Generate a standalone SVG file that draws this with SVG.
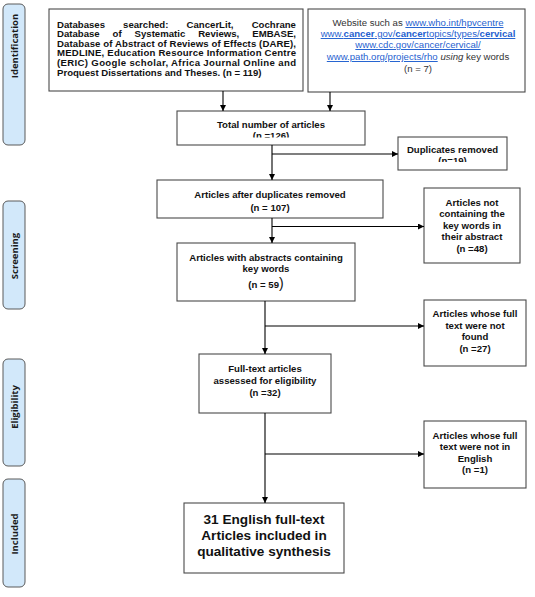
<svg xmlns="http://www.w3.org/2000/svg" width="535" height="597" viewBox="0 0 535 597">
<defs>
<style>
.box{fill:#fff;stroke:#4a4a4a;stroke-width:1.1}
.side{fill:#d2e8fa;stroke:#5a5a5a;stroke-width:1}
.st{font-family:"Open Sans","Noto Sans",sans-serif;font-weight:700;font-size:9.5px;fill:#1a1a1a;text-anchor:middle}
.t{font-family:"Liberation Sans",Arial,sans-serif;font-weight:700;font-size:9.6px;fill:#111;text-anchor:middle}
.tl{font-family:"Liberation Sans",Arial,sans-serif;font-weight:700;font-size:9.6px;fill:#111}
.w{font-family:"Liberation Sans",Arial,sans-serif;font-size:9.6px;fill:#333;text-anchor:middle}
.lk{fill:#1f5fd0;text-decoration:underline}
.big{font-family:"Liberation Sans",Arial,sans-serif;font-weight:700;font-size:13.6px;fill:#111;text-anchor:middle}
.c{fill:none;stroke:#000;stroke-width:1.1}
</style>
<marker id="ah" viewBox="0 0 10 10" refX="10" refY="5" markerWidth="6" markerHeight="6" markerUnits="userSpaceOnUse" orient="auto">
<path d="M0,0 L10,5 L0,10 z" fill="#000"/>
</marker>
<clipPath id="clipTotal"><rect x="177" y="111" width="188" height="26.5"/></clipPath>
<clipPath id="clipDup"><rect x="398" y="137" width="109" height="25"/></clipPath>
</defs>

<g id="stage-identification">
<rect class="side" x="3" y="4" width="22" height="141" rx="5"/>
<text class="st" transform="translate(17.5,46) rotate(-90)">Identification</text>
</g>
<g id="stage-screening">
<rect class="side" x="3" y="201" width="22" height="108" rx="5"/>
<text class="st" transform="translate(17.5,256) rotate(-90)">Screening</text>
</g>
<g id="stage-eligibility">
<rect class="side" x="3" y="359" width="22" height="107" rx="5"/>
<text class="st" transform="translate(17.5,407) rotate(-90)">Eligibility</text>
</g>
<g id="stage-included">
<rect class="side" x="3" y="479" width="22" height="108" rx="5"/>
<text class="st" transform="translate(17.5,534) rotate(-90)">Included</text>
</g>

<g id="databases">
<rect class="box" x="49" y="9" width="254" height="82"/>
<text class="tl" y="27.5"><tspan x="57">Databases</tspan><tspan x="123.1">searched:</tspan><tspan x="186.6">CancerLit,</tspan><tspan x="251.7">Cochrane</tspan></text>
<text class="tl" y="37.1"><tspan x="57">Database</tspan><tspan x="112.6">of</tspan><tspan x="134.6">Systematic</tspan><tspan x="198.2">Reviews,</tspan><tspan x="252.3">EMBASE,</tspan></text>
<text class="tl" x="57" y="46.7" textLength="239" lengthAdjust="spacing">Database of Abstract of Reviews of Effects (DARE),</text>
<text class="tl" x="57" y="56.3" textLength="239" lengthAdjust="spacing">MEDLINE, Education Resource Information Centre</text>
<text class="tl" x="57" y="65.9" textLength="239" lengthAdjust="spacing">(ERIC) Google scholar, Africa Journal Online and</text>
<text class="tl" x="57" y="75.5">Proquest Dissertations and Theses. (n = 119)</text>
</g>

<g id="websites">
<rect class="box" x="308" y="9" width="217" height="83"/>
<text class="w" x="418" y="26">Website such as <tspan class="lk">www.who.int/hpvcentre</tspan></text>
<text class="w" x="418" y="37"><tspan class="lk">www.<tspan font-weight="700">cancer</tspan>.gov/<tspan font-weight="700">cancer</tspan>topics/types/<tspan font-weight="700">cervical</tspan></tspan></text>
<text class="w" x="418" y="48"><tspan class="lk">www.cdc.gov/cancer/cervical/</tspan></text>
<text class="w" x="418" y="60"><tspan class="lk">www.path.org/projects/rho</tspan>  <tspan font-style="italic">using</tspan> key words</text>
<text class="w" x="418" y="72">(n = 7)</text>
</g>

<g id="total">
<rect class="box" x="177" y="111" width="188" height="34"/>
<text class="t" x="271" y="127.5">Total number of articles</text>
<text class="t" x="271" y="139" clip-path="url(#clipTotal)">(n =126)</text>
</g>

<g id="duplicates">
<rect class="box" x="398" y="137" width="109" height="33"/>
<text class="t" x="452.5" y="152.5">Duplicates removed</text>
<text class="t" x="452.5" y="164" clip-path="url(#clipDup)">(n=19)</text>
</g>

<g id="after-duplicates">
<rect class="box" x="157" y="180" width="226" height="38"/>
<text class="t" x="270" y="197.5">Articles after duplicates removed</text>
<text class="t" x="270" y="210.5">(n = 107)</text>
</g>

<g id="not-containing">
<rect class="box" x="424" y="188" width="96" height="75"/>
<text class="t" x="472" y="205.5">Articles not</text>
<text class="t" x="472" y="217">containing the</text>
<text class="t" x="472" y="228.5">key words in</text>
<text class="t" x="472" y="240">their abstract</text>
<text class="t" x="472" y="251.5">(n =48)</text>
</g>

<g id="abstracts">
<rect class="box" x="177" y="243" width="178" height="58"/>
<text class="t" x="266" y="260.5">Articles with abstracts containing</text>
<text class="t" x="266" y="271.5">key words</text>
<text class="t" x="266" y="287.5">(n = 59<tspan font-size="14" font-weight="400">)</tspan></text>
</g>

<g id="not-found">
<rect class="box" x="424" y="300" width="102" height="66"/>
<text class="t" x="475" y="317">Articles whose full</text>
<text class="t" x="475" y="328.5">text were not</text>
<text class="t" x="475" y="340">found</text>
<text class="t" x="475" y="351.5">(n =27)</text>
</g>

<g id="full-text">
<rect class="box" x="199" y="354" width="132" height="59"/>
<text class="t" x="265" y="371.5">Full-text articles</text>
<text class="t" x="265" y="383.5">assessed for eligibility</text>
<text class="t" x="265" y="395.5">(n =32)</text>
</g>

<g id="not-english">
<rect class="box" x="424" y="421" width="102" height="67"/>
<text class="t" x="475" y="438.5">Articles whose full</text>
<text class="t" x="475" y="450">text were not in</text>
<text class="t" x="475" y="461.5">English</text>
<text class="t" x="475" y="473">(n =1)</text>
</g>

<g id="included">
<rect class="box" x="184" y="503" width="160" height="70"/>
<text class="big" x="264" y="524">31 English full-text</text>
<text class="big" x="264" y="540">Articles included in</text>
<text class="big" x="264" y="556">qualitative synthesis</text>
</g>

<g id="connectors">
<line class="c" x1="223" y1="91" x2="223" y2="111" marker-end="url(#ah)"/>
<line class="c" x1="330" y1="92" x2="330" y2="111" marker-end="url(#ah)"/>
<line class="c" x1="272" y1="145" x2="272" y2="180" marker-end="url(#ah)"/>
<line class="c" x1="272" y1="154" x2="398" y2="154" marker-end="url(#ah)"/>
<line class="c" x1="272" y1="218" x2="272" y2="243" marker-end="url(#ah)"/>
<line class="c" x1="272" y1="226.5" x2="424" y2="226.5" marker-end="url(#ah)"/>
<line class="c" x1="265" y1="301" x2="265" y2="354" marker-end="url(#ah)"/>
<line class="c" x1="265" y1="326" x2="424" y2="326" marker-end="url(#ah)"/>
<line class="c" x1="265" y1="413" x2="265" y2="503" marker-end="url(#ah)"/>
<line class="c" x1="265" y1="454" x2="424" y2="454" marker-end="url(#ah)"/>
</g>
</svg>
